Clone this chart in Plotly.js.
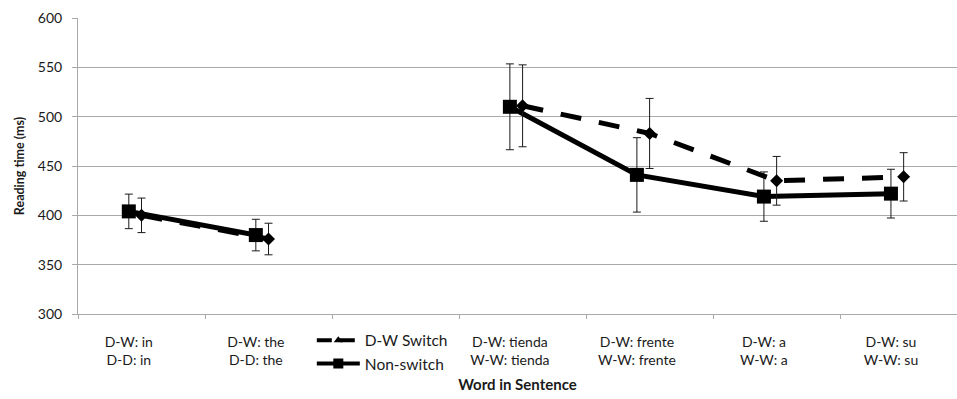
<!DOCTYPE html>
<html>
<head>
<meta charset="utf-8">
<script src="https://cdn.plot.ly/plotly-3.0.1.min.js"></script>
<style>
  html, body { margin: 0; padding: 0; background: #fff; }
  #chart { width: 957px; height: 399px; }
</style>
</head>
<body>
<div id="chart"></div>
<script>
// Word positions in the sentence (third slot is left empty for the legend)
const categories = [
  'D-W: in<br>D-D: in',
  'D-W: the<br>D-D: the',
  '',
  'D-W: tienda<br>W-W: tienda',
  'D-W: frente<br>W-W: frente',
  'D-W: a<br>W-W: a',
  'D-W: su<br>W-W: su'
];

// Mean reading times (ms) and error-bar half-lengths
const switchMeans    = [400, 376, null, 511, 483, 435, 439];
const switchErrors   = [17.5, 16, null, 41.5, 35.5, 24.7, 24.5];
const nonSwitchMeans = [404, 380, null, 510, 441, 419, 422];
const nonSwitchErrors= [17.5, 16, null, 43.5, 37.7, 25, 24.7];

const yTicks = [300, 350, 400, 450, 500, 550, 600];

const FONT = 'Lato, "Liberation Sans", sans-serif';
const INK = '#1a1a1a';
const GRID = '#a9a9a9';

// Numeric slots so the two series can sit side by side in each slot
const slot = categories.map((_, i) => i);
const nonSwitchX = slot.map(i => i - 0.1);
const boundaries = categories.map((_, i) => i - 0.5).concat([categories.length - 0.5]);

const errStyle = { type: 'data', visible: true, color: INK, thickness: 1, width: 4 };

const traces = [
  {
    name: 'Non-switch', x: nonSwitchX, y: nonSwitchMeans,
    type: 'scatter', mode: 'lines+markers', connectgaps: false, showlegend: false,
    line: { color: '#000', width: 5 },
    marker: { symbol: 'square', size: 14, color: '#000' },
    error_y: Object.assign({ array: nonSwitchErrors }, errStyle)
  },
  {
    name: 'D-W Switch', x: slot, y: switchMeans,
    type: 'scatter', mode: 'lines+markers', connectgaps: false, showlegend: false,
    line: { color: '#000', width: 5, dash: '21px,18px' },
    marker: { symbol: 'diamond', size: 10, color: '#000' },
    error_y: Object.assign({ array: switchErrors }, errStyle)
  },
  // legend entries
  {
    name: 'D-W Switch', x: [null], y: [null], xaxis: 'x2',
    type: 'scatter', mode: 'lines+markers', legendgroup: 'a',
    line: { color: '#000', width: 4, dash: '15px,8px' },
    marker: { symbol: 'triangle-up', size: 8, color: '#000' }
  },
  {
    name: 'Non-switch', x: [null], y: [null], xaxis: 'x2',
    type: 'scatter', mode: 'lines+markers', legendgroup: 'b',
    line: { color: '#000', width: 4 },
    marker: { symbol: 'square', size: 10, color: '#000' }
  }
];

const xRange = [-0.5, 6.42];

const layout = {
  width: 957, height: 399,
  margin: { l: 78, r: 0, t: 18, b: 85 },
  paper_bgcolor: '#fff', plot_bgcolor: '#fff',
  font: { family: FONT, color: INK, size: 14 },
  showlegend: true,
  legend: {
    x: 0.266, y: -0.033, xanchor: 'left', yanchor: 'top',
    font: { family: FONT, size: 15.5, color: INK },
    bgcolor: 'rgba(0,0,0,0)', tracegroupgap: 0, itemwidth: 43,
    traceorder: 'grouped'
  },
  xaxis: {
    range: xRange, tickmode: 'array',
    tickvals: slot.map(i => i - 0.1), ticktext: categories,
    showgrid: false, zeroline: false,
    showline: true, linecolor: GRID, linewidth: 1,
    ticks: '', ticklen: 0, ticklabelstandoff: 15,
    tickfont: { family: FONT, size: 14, color: INK },
    title: { text: '<b>Word in Sentence</b>', font: { family: FONT, size: 15, color: INK }, standoff: 12 }
  },
  xaxis2: {
    range: xRange, overlaying: 'x', anchor: 'y', side: 'bottom',
    tickmode: 'array', tickvals: boundaries,
    showticklabels: false, showgrid: false, zeroline: false, showline: false,
    ticks: 'outside', ticklen: 4, tickcolor: GRID, tickwidth: 1
  },
  yaxis: {
    range: [300, 600], tickmode: 'array', tickvals: yTicks,
    showgrid: true, gridcolor: GRID, gridwidth: 1, zeroline: false,
    showline: true, linecolor: GRID, linewidth: 1,
    ticks: 'outside', ticklen: 5, tickcolor: GRID, ticklabelstandoff: 7,
    tickfont: { family: FONT, size: 14, color: INK },
    title: { text: '<b>Reading time (ms)</b>', font: { family: FONT, size: 12.5, color: INK }, standoff: 10 }
  }
};

Plotly.newPlot('chart', traces, layout, { staticPlot: true, displayModeBar: false });
</script>
</body>
</html>
